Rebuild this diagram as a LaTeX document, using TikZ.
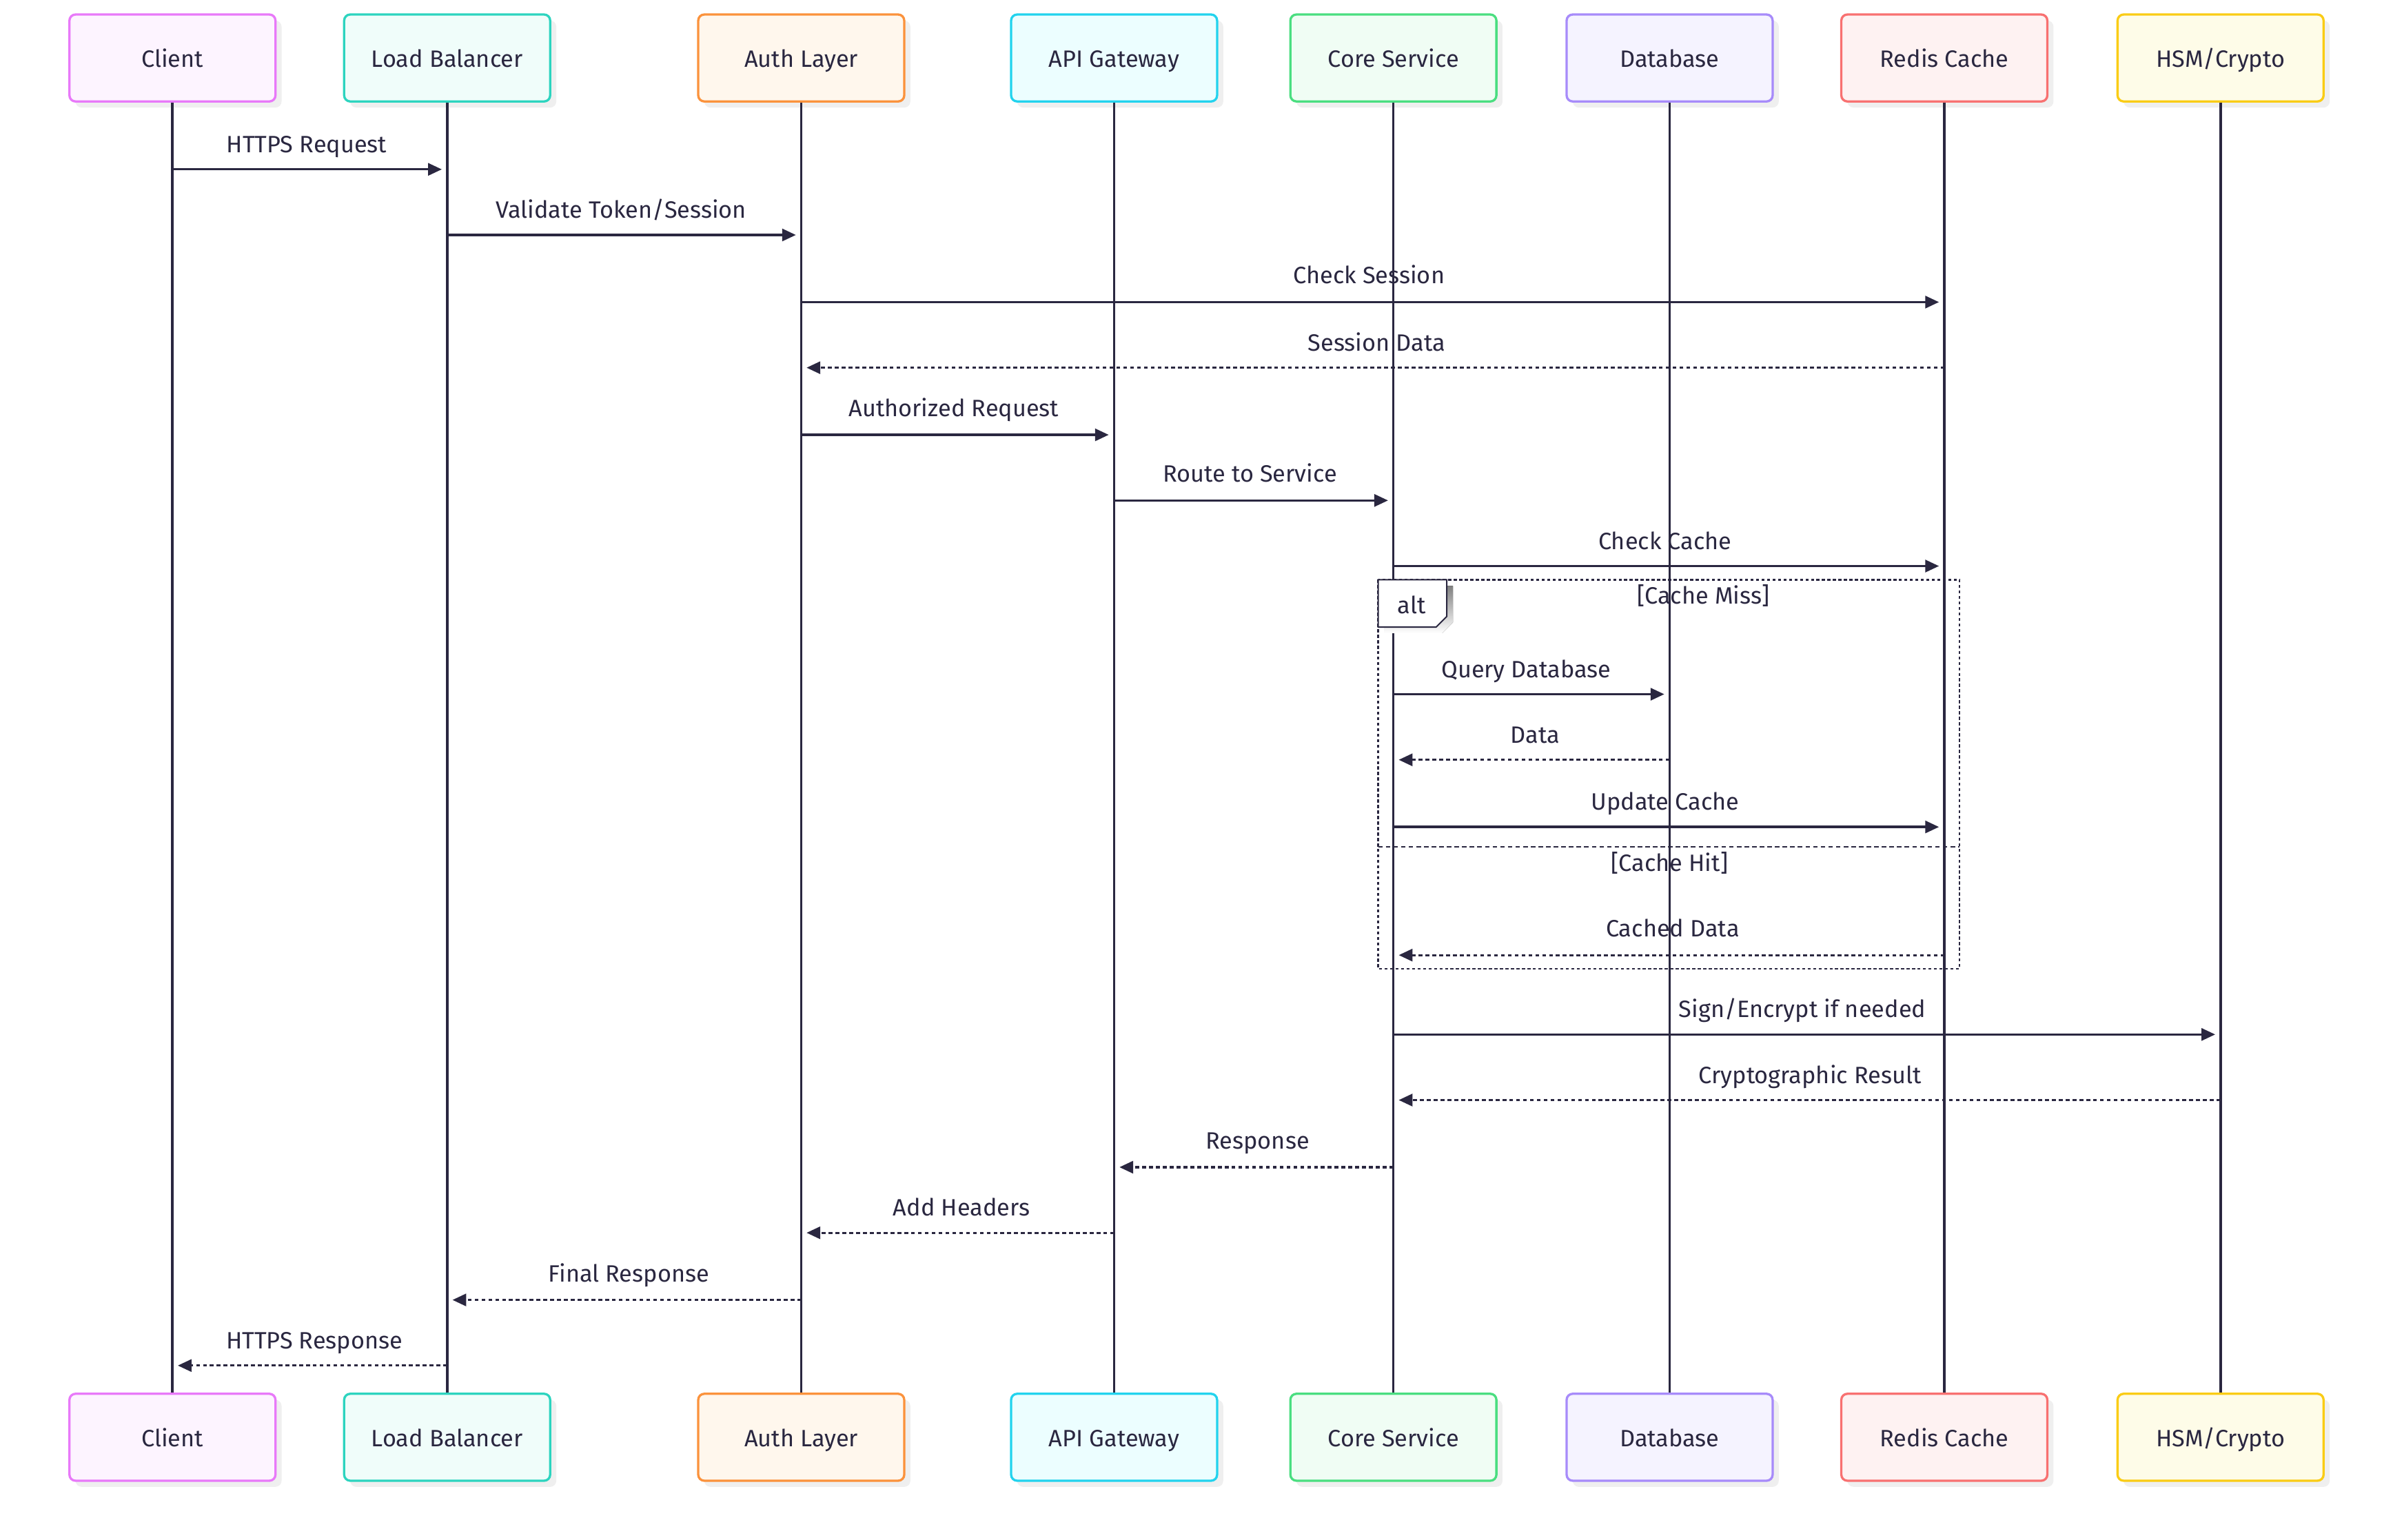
\documentclass[tikz,border=0pt]{standalone}
\usepackage{fontspec}
\setmainfont{Fira Sans}
\usetikzlibrary{arrows.meta,shadows}
\definecolor{ink}{HTML}{2A2740}
\definecolor{shade}{HTML}{EFEFEF}
\definecolor{clientD}{HTML}{E879F9}\definecolor{clientF}{HTML}{FDF4FF}
\definecolor{lbD}{HTML}{2DD4BF}\definecolor{lbF}{HTML}{F0FDFA}
\definecolor{authD}{HTML}{FB923C}\definecolor{authF}{HTML}{FFF7ED}
\definecolor{apiD}{HTML}{22D3EE}\definecolor{apiF}{HTML}{ECFEFF}
\definecolor{coreD}{HTML}{4ADE80}\definecolor{coreF}{HTML}{F0FDF4}
\definecolor{dbD}{HTML}{A78BFA}\definecolor{dbF}{HTML}{F5F3FF}
\definecolor{redisD}{HTML}{F87171}\definecolor{redisF}{HTML}{FEF2F2}
\definecolor{hsmD}{HTML}{FACC15}\definecolor{hsmF}{HTML}{FEFCE8}
\begin{document}
\begin{tikzpicture}[x=1pt,y=-1pt,
  font=\fontsize{15.5}{18}\selectfont,
  actor/.style={rectangle, rounded corners=4pt, draw=#1D, fill=#1F,
    line width=1.5pt, minimum width=135pt, minimum height=57pt, text=ink,
    text height=14pt, text depth=2pt, inner sep=0pt,
    drop shadow={shadow xshift=4pt, shadow yshift=-4pt, fill=shade, opacity=1}},
  life/.style={draw=ink, line width=1.6pt},
  msg/.style={draw=ink, line width=1.5pt, -{Triangle[length=9pt,width=8pt]}, shorten >=3.5pt},
  reply/.style={msg, dash pattern=on 2.5pt off 2pt},
  lbl/.style={text=ink, anchor=base, inner sep=0pt},
  frame/.style={draw=ink, line width=1pt, dash pattern=on 2pt off 1.6pt}]
\useasboundingbox (0,0) rectangle (1568,1009);
\fill[white] (0,0) rectangle (1568,1009);

% participants top
\node[actor=client] (client) at (113,38) {Client};
\node[actor=lb] (lb) at (293,38) {Load Balancer};
\node[actor=auth] (auth) at (525,38) {Auth Layer};
\node[actor=api] (api) at (730,38) {API Gateway};
\node[actor=core] (core) at (913,38) {Core Service};
\node[actor=db] (db) at (1094,38) {Database};
\node[actor=redis] (redis) at (1274,38) {Redis Cache};
\node[actor=hsm] (hsm) at (1455,38) {HSM/Crypto};
% participants bottom
\node[actor=client] (clientB) at (113,942) {Client};
\node[actor=lb] (lbB) at (293,942) {Load Balancer};
\node[actor=auth] (authB) at (525,942) {Auth Layer};
\node[actor=api] (apiB) at (730,942) {API Gateway};
\node[actor=core] (coreB) at (913,942) {Core Service};
\node[actor=db] (dbB) at (1094,942) {Database};
\node[actor=redis] (redisB) at (1274,942) {Redis Cache};
\node[actor=hsm] (hsmB) at (1455,942) {HSM/Crypto};

% lifelines
\foreach \p in {client,lb,auth,api,core,db,redis,hsm}
  \draw[life] (\p.south) -- (\p B.north);

% alt frame
\draw[frame] (903,380) rectangle (1284,635);
\draw[frame, dash pattern=on 3pt off 2pt] (903,555) -- (1284,555);
\fill[shade] (907,384) -- (952,384) -- (952,408) -- (945,415) -- (907,415) -- cycle;
\draw[ink, fill=white, line width=0.9pt] (903,380) -- (948,380) -- (948,404) -- (941,411) -- (903,411) -- cycle;
\node[lbl] (altlbl) at (925,402) {alt};
\node[lbl] (cmiss) at (1116,396) {[Cache Miss]};
\node[lbl] (chit) at (1094,571) {[Cache Hit]};

% y levels
\foreach \n/\y in {m1/111,m2/154,m3/198,m4/241,m5/285,m6/328,m7/371,m8/455,m9/498,m10/542,m11/626,m12/678,m13/721,m14/765,m15/808,m16/852,m17/895}
  \coordinate (\n) at (0,\y);

% messages
\draw[msg] (client |- m1) -- (lb |- m1);
\node[lbl] (t1) at (201,100) {HTTPS Request};
\draw[msg] (lb |- m2) -- (auth |- m2);
\node[lbl] (t2) at (407,143) {Validate Token/Session};
\draw[msg] (auth |- m3) -- (redis |- m3);
\node[lbl] (t3) at (897,186) {Check Session};
\draw[reply] (redis |- m4) -- (auth |- m4);
\node[lbl] (t4) at (902,230) {Session Data};
\draw[msg] (auth |- m5) -- (api |- m5);
\node[lbl] (t5) at (625,273) {Authorized Request};
\draw[msg] (api |- m6) -- (core |- m6);
\node[lbl] (t6) at (819,316) {Route to Service};
\draw[msg] (core |- m7) -- (redis |- m7);
\node[lbl] (t7) at (1091,360) {Check Cache};
\draw[msg] (core |- m8) -- (db |- m8);
\node[lbl] (t8) at (1000,444) {Query Database};
\draw[reply] (db |- m9) -- (core |- m9);
\node[lbl] (t9) at (1006,487) {Data};
\draw[msg] (core |- m10) -- (redis |- m10);
\node[lbl] (t10) at (1091,531) {Update Cache};
\draw[reply] (redis |- m11) -- (core |- m11);
\node[lbl] (t11) at (1096,614) {Cached Data};
\draw[msg] (core |- m12) -- (hsm |- m12);
\node[lbl] (t12) at (1181,667) {Sign/Encrypt if needed};
\draw[reply] (hsm |- m13) -- (core |- m13);
\node[lbl] (t13) at (1186,710) {Cryptographic Result};
\draw[reply] (core |- m14) -- (api |- m14);
\node[lbl] (t14) at (824,753) {Response};
\draw[reply] (api |- m15) -- (auth |- m15);
\node[lbl] (t15) at (630,797) {Add Headers};
\draw[reply] (auth |- m16) -- (lb |- m16);
\node[lbl] (t16) at (412,840) {Final Response};
\draw[reply] (lb |- m17) -- (client |- m17);
\node[lbl] (t17) at (206,884) {HTTPS Response};
\end{tikzpicture}
\end{document}
